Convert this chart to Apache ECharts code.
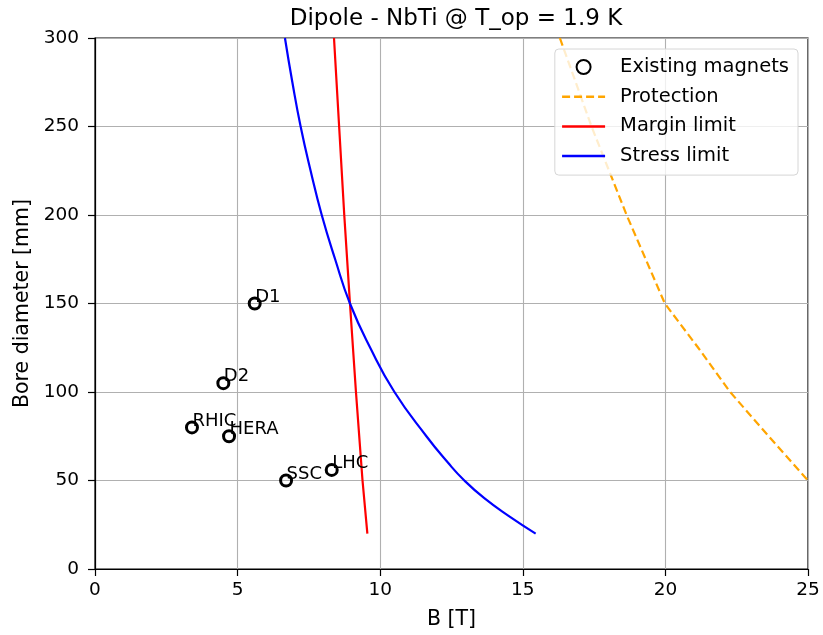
<!DOCTYPE html>
<html><head><meta charset="utf-8">
<script src="https://cdn.jsdelivr.net/npm/echarts@6/dist/echarts.min.js"></script>
<style>html,body{margin:0;padding:0;background:#fff}#c{width:823px;height:635px}</style>
</head><body><div id="c"></div>
<script>
const magnetNames = ['D1','D2','RHIC','HERA','SSC','LHC'];
const magnetB = [5.6, 4.5, 3.4, 4.7, 6.7, 8.3];
const magnetD = [150, 105, 80, 75, 50, 56];

const protectionB = [16.3, 17.41, 18.64, 19.98, 21.15, 22.27, 23.62, 25.0];
const protectionD = [300, 250, 200, 150, 125, 100, 75, 50];

const marginB = [8.38, 8.56, 8.74, 8.94, 9.15, 9.38, 9.55];
const marginD = [300, 250, 200, 150, 100, 50, 20];

const stressB = [6.66, 6.92, 7.21, 7.56, 7.95, 8.42, 8.94, 9.65, 10.5, 11.62, 12.38, 12.95, 13.65, 14.5, 15.45];
const stressD = [300, 275, 250, 225, 200, 175, 150, 125, 100, 75, 60, 50, 40, 30, 20];

const xTicks = [0, 5, 10, 15, 20, 25];
const yTicks = [0, 50, 100, 150, 200, 250, 300];

const zip = (a, b) => a.map((v, i) => [v, b[i]]);
const FONT = 'DejaVu Sans';

const chart = echarts.init(document.getElementById('c'), null, {renderer: 'canvas'});
chart.setOption({
  animation: false,
  backgroundColor: '#fff',
  textStyle: {fontFamily: FONT},
  title: {
    text: 'Dipole - NbTi @ T_op = 1.9 K',
    left: 451, top: 3, textAlign: 'center',
    textStyle: {fontFamily: FONT, fontSize: 23, fontWeight: 'normal', color: '#000'}
  },
  grid: {left: 95, right: 15, top: 38, bottom: 66, show: true, borderColor: '#000', borderWidth: 1.2,
    outerBoundsMode: 'none', containLabel: false},
  legend: {
    right: 25, top: 49, orient: 'vertical',
    backgroundColor: 'rgba(255,255,255,0.8)',
    borderColor: '#d6d6d6', borderWidth: 1, borderRadius: 4,
    padding: [8, 9, 9, 6],
    itemWidth: 43, itemHeight: 14, itemGap: 9.7,
    lineStyle: {width: 2.5},
    textStyle: {fontFamily: FONT, fontSize: 19.5, lineHeight: 20, color: '#000', padding: [0, 0, 0, 10]},
    data: [
      {name: 'Existing magnets'},
      {name: 'Protection', itemStyle: {opacity: 0}},
      {name: 'Margin limit', itemStyle: {opacity: 0}},
      {name: 'Stress limit', itemStyle: {opacity: 0}}
    ]
  },
  xAxis: {
    type: 'value', min: 0, max: 25, interval: 5,
    name: 'B [T]', nameLocation: 'middle', nameGap: 40,
    nameTextStyle: {fontFamily: FONT, fontSize: 20.5, color: '#000'},
    axisLine: {show: true, lineStyle: {color: '#000', width: 1.2}},
    axisTick: {show: true, length: 7, lineStyle: {color: '#000', width: 1.2}},
    axisLabel: {fontFamily: FONT, fontSize: 18.5, color: '#000', margin: 12,
      formatter: v => xTicks.includes(v) ? String(v) : ''},
    splitLine: {show: true, lineStyle: {color: '#b0b0b0', width: 1.1}}
  },
  yAxis: {
    type: 'value', min: 0, max: 300, interval: 50,
    name: 'Bore diameter [mm]', nameLocation: 'middle', nameGap: 59,
    nameTextStyle: {fontFamily: FONT, fontSize: 20.5, color: '#000'},
    axisLine: {show: true, lineStyle: {color: '#000', width: 1.2}},
    axisTick: {show: true, length: 7, lineStyle: {color: '#000', width: 1.2}},
    axisLabel: {fontFamily: FONT, fontSize: 18.5, color: '#000', margin: 16,
      formatter: v => yTicks.includes(v) ? String(v) : ''},
    splitLine: {show: true, lineStyle: {color: '#b0b0b0', width: 1.1}}
  },
  series: [
    {
      name: 'Existing magnets', type: 'scatter', z: 5,
      data: magnetNames.map((n, i) => ({name: n, value: [magnetB[i], magnetD[i]]})),
      symbol: 'circle', symbolSize: 11,
      itemStyle: {color: 'rgba(255,255,255,0)', borderColor: '#000', borderWidth: 3, opacity: 1},
      label: {
        show: true, formatter: p => p.name, position: [7.5, 9.5],
        align: 'left', verticalAlign: 'bottom',
        fontFamily: FONT, fontSize: 18, color: '#000'
      }
    },
    {
      name: 'Protection', type: 'line', smooth: false, showSymbol: false, symbol: 'none',
      data: zip(protectionB, protectionD), color: '#ffa500',
      lineStyle: {color: '#ffa500', width: 2.2, type: [8, 4]}
    },
    {
      name: 'Margin limit', type: 'line', smooth: false, showSymbol: false, symbol: 'none',
      data: zip(marginB, marginD), color: '#ff0000',
      lineStyle: {color: '#ff0000', width: 2.2}
    },
    {
      name: 'Stress limit', type: 'line', smooth: 0.5, showSymbol: false, symbol: 'none',
      data: zip(stressB, stressD), color: '#0000ff',
      lineStyle: {color: '#0000ff', width: 2.2}
    }
  ]
});
</script>
</body></html>
